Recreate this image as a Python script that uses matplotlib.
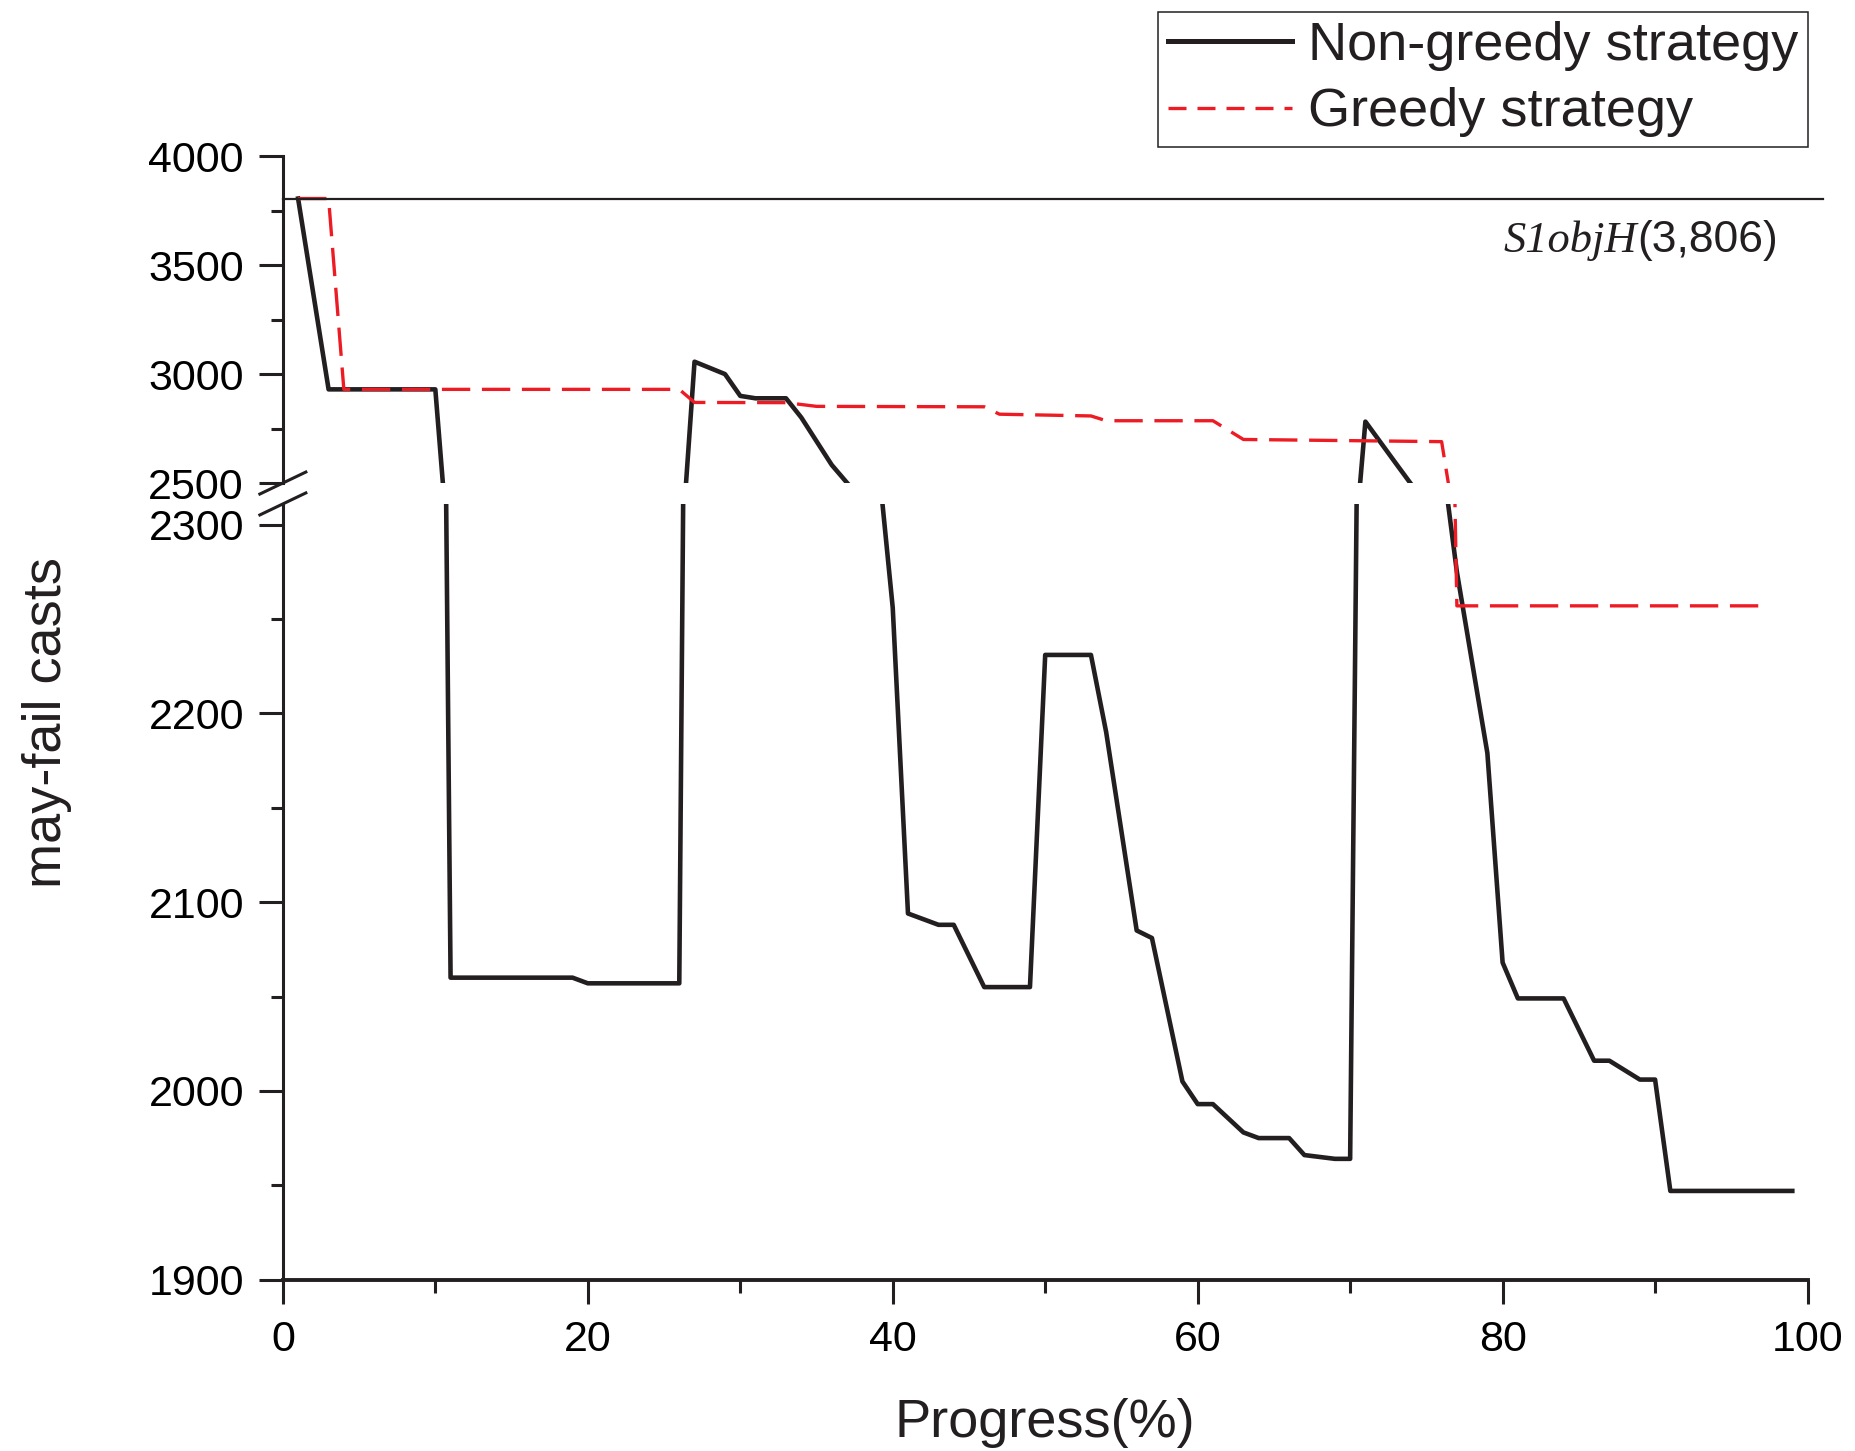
import matplotlib
matplotlib.use('Agg')
import matplotlib.pyplot as plt
from matplotlib.ticker import MultipleLocator

BLACK = '#231f20'
RED = '#ed1c24'

S1OBJH = 3806

progress_non_greedy = [1, 3, 10, 11, 19, 20, 26, 27, 29, 30, 31, 33, 34, 36, 40, 41, 43, 44, 46, 49,
                       50, 53, 54, 56, 57, 59, 60, 61, 63, 64, 66, 67, 69, 70, 71, 73, 75, 77, 79, 80,
                       81, 84, 86, 87, 89, 90, 91, 99]
casts_non_greedy = [3806, 2930, 2930, 2060, 2060, 2057, 2057, 3057, 3000, 2900, 2889, 2889, 2801, 2583,
                    2256, 2094, 2088, 2088, 2055, 2055, 2231, 2231, 2190, 2085, 2081, 2005, 1993, 1993,
                    1978, 1975, 1975, 1966, 1964, 1964, 2782, 2590, 2400, 2275, 2179, 2068, 2049, 2049,
                    2016, 2016, 2006, 2006, 1947, 1947]

progress_greedy = [1, 3, 4, 26, 27, 33, 35, 46, 47, 53, 54, 61, 63, 76, 77, 97]
casts_greedy = [3806, 3806, 2930, 2930, 2870, 2869, 2852, 2850, 2816, 2808, 2786, 2786, 2700, 2690,
                2257, 2257]

x_ticks = [0, 20, 40, 60, 80, 100]
top_ticks = [2500, 3000, 3500, 4000]
low_ticks = [1900, 2000, 2100, 2200, 2300]

plt.rcParams['font.family'] = ['Liberation Sans', 'DejaVu Sans']

fig = plt.figure(figsize=(18.56, 14.51), dpi=100)
W, H = 1856, 1451
left, width = 0.1524, 0.8215
ax_top = fig.add_axes([left, 0.6671, width, 0.2252])
ax_low = fig.add_axes([left, 0.1181, width, 0.5346])


def draw_series(ax):
    ax.plot(progress_non_greedy, casts_non_greedy, color=BLACK, lw=3.3, label='Non-greedy strategy')
    ax.plot(progress_greedy, casts_greedy, color=RED, lw=2.4, dashes=(8.5, 3.5), label='Greedy strategy')


def style_axis(ax):
    for side in ['top', 'right']:
        ax.spines[side].set_visible(False)
    ax.spines['left'].set_linewidth(2.2)
    ax.spines['bottom'].set_linewidth(2.8)
    ax.spines['left'].set_color(BLACK)
    ax.spines['bottom'].set_color(BLACK)
    ax.tick_params(which='major', direction='out', length=17, width=2.2, labelsize=31, color=BLACK)
    ax.tick_params(which='minor', direction='out', length=9, width=2.2, color=BLACK)
    ax.tick_params(axis='y', pad=11)
    ax.tick_params(axis='x', pad=12)
    ax.set_xlim(0, 100)


draw_series(ax_top)
draw_series(ax_low)
style_axis(ax_top)
style_axis(ax_low)

# upper part: 2500..4000
ax_top.set_ylim(2500, 4000)
ax_top.set_yticks(top_ticks)
ax_top.yaxis.set_minor_locator(MultipleLocator(250))
ax_top.spines['bottom'].set_visible(False)
ax_top.set_xticks([])
ax_top.axhline(S1OBJH, xmin=0, xmax=1.01, color=BLACK, lw=1.6, clip_on=False)
ax_top.text(88.8, 3561, 'S1objH', family='Liberation Serif', style='italic', fontsize=32,
            ha='right', va='baseline', color=BLACK)
ax_top.text(88.8, 3561, f'({S1OBJH:,})', fontsize=32, ha='left', va='baseline', color=BLACK)

# lower part: 1900..~2311
ax_low.set_ylim(1900, 2311)
ax_low.set_yticks(low_ticks)
ax_low.yaxis.set_minor_locator(MultipleLocator(50))
ax_low.set_xticks(x_ticks)
ax_low.xaxis.set_minor_locator(MultipleLocator(10))

# break marks on the y axis
dx = 23 / (width * W)
dy_top = 11 / (0.2252 * H)
dy_low = 11 / (0.5346 * H)
ax_top.plot([-dx, dx], [-dy_top, dy_top], transform=ax_top.transAxes, color=BLACK, lw=2.2, clip_on=False)
ax_low.plot([-dx, dx], [1 - dy_low, 1 + dy_low], transform=ax_low.transAxes, color=BLACK, lw=2.2,
            clip_on=False)

fig.text(47 / W, 1 - 722 / H, 'may-fail casts', rotation=90, ha='center', va='center', fontsize=39,
         color=BLACK)
fig.text(left + width / 2, 1 - 1437 / H, 'Progress(%)', ha='center', va='baseline', fontsize=39,
         color=BLACK)

leg = ax_low.legend(loc='upper right', bbox_to_anchor=(1808 / W, 1 - 12 / H), bbox_transform=fig.transFigure,
                    fontsize=39, handlelength=2.3, handletextpad=0.3, borderpad=0.17, labelspacing=0.3,
                    fancybox=False, framealpha=1, edgecolor=BLACK, borderaxespad=0)
leg.get_frame().set_linewidth(1.1)
leg.get_lines()[0].set_linewidth(3.6)
leg.get_lines()[1].set_dashes((5.4, 3.3))
for t in leg.get_texts():
    t.set_color(BLACK)

fig.savefig('out.png', dpi=100)
